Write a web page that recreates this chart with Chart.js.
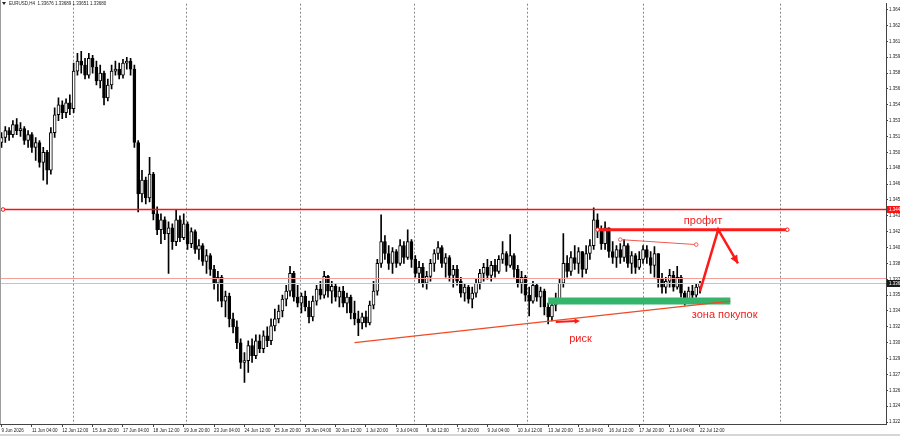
<!DOCTYPE html>
<html>
<head>
<meta charset="utf-8">
<script src="https://cdn.jsdelivr.net/npm/chart.js@4/dist/chart.umd.min.js"></script>
<style>
  html, body { margin: 0; padding: 0; background: #fff; }
</style>
</head>
<body>
<canvas id="c" width="900" height="436"></canvas>
<script>
// EURUSD H4 candles
const opens = [
  1.3510,1.3515,1.3522,1.3518,1.3528,1.3522,1.3524,1.3512,1.3518,1.3505,
  1.3510,1.3490,1.3500,1.3482,1.3520,1.3538,1.3548,1.3540,1.3550,1.3544,
  1.3582,1.3592,1.3588,1.3578,1.3595,1.3586,1.3572,1.3580,1.3555,1.3568,
  1.3582,1.3584,1.3578,1.3590,1.3592,1.3584,1.3510,1.3458,1.3472,1.3454,
  1.3478,1.3438,1.3422,1.3432,1.3418,1.3424,1.3410,1.3432,1.3414,1.3428,
  1.3408,1.3420,1.3402,1.3406,1.3390,1.3396,1.3382,1.3368,1.3374,1.3350,
  1.3355,1.3332,1.3324,1.3308,1.3288,1.3290,1.3305,1.3295,1.3310,1.3302,
  1.3315,1.3310,1.3325,1.3332,1.3340,1.3352,1.3360,1.3378,1.3354,1.3348,
  1.3355,1.3344,1.3334,1.3350,1.3362,1.3356,1.3375,1.3360,1.3365,1.3354,
  1.3360,1.3348,1.3354,1.3338,1.3332,1.3328,1.3334,1.3328,1.3346,1.3360,
  1.3388,1.3410,1.3398,1.3388,1.3400,1.3388,1.3406,1.3394,1.3410,1.3392,
  1.3378,1.3384,1.3368,1.3375,1.3388,1.3398,1.3404,1.3388,1.3394,1.3376,
  1.3382,1.3370,1.3358,1.3364,1.3352,1.3358,1.3368,1.3378,1.3384,1.3376,
  1.3386,1.3380,1.3392,1.3398,1.3386,1.3396,1.3382,1.3368,1.3374,1.3356,
  1.3350,1.3366,1.3354,1.3360,1.3344,1.3334,1.3346,1.3352,1.3368,1.3388,
  1.3380,1.3394,1.3388,1.3400,1.3382,1.3398,1.3406,1.3432,1.3422,1.3408,
  1.3424,1.3400,1.3394,1.3402,1.3394,1.3406,1.3388,1.3396,1.3384,1.3392,
  1.3402,1.3394,1.3386,1.3398,1.3372,1.3364,1.3370,1.3376,1.3364,1.3374,
  1.3358,1.3352,1.3360,1.3356,1.3364
];
const highs = [
  1.3520,1.3526,1.3525,1.3532,1.3534,1.3530,1.3526,1.3522,1.3520,1.3515,
  1.3512,1.3505,1.3502,1.3525,1.3545,1.3555,1.3552,1.3554,1.3558,1.3590,
  1.3600,1.3602,1.3595,1.3600,1.3598,1.3592,1.3588,1.3582,1.3574,1.3588,
  1.3592,1.3590,1.3594,1.3596,1.3595,1.3588,1.3512,1.3482,1.3475,1.3495,
  1.3480,1.3445,1.3438,1.3435,1.3430,1.3428,1.3442,1.3436,1.3438,1.3430,
  1.3424,1.3422,1.3412,1.3408,1.3402,1.3398,1.3386,1.3380,1.3376,1.3360,
  1.3358,1.3338,1.3330,1.3312,1.3298,1.3310,1.3312,1.3316,1.3316,1.3320,
  1.3324,1.3332,1.3342,1.3346,1.3356,1.3366,1.3385,1.3380,1.3366,1.3358,
  1.3360,1.3350,1.3355,1.3366,1.3370,1.3380,1.3376,1.3370,1.3368,1.3364,
  1.3365,1.3358,1.3356,1.3350,1.3340,1.3338,1.3340,1.3350,1.3370,1.3392,
  1.3437,1.3416,1.3406,1.3404,1.3402,1.3412,1.3410,1.3422,1.3412,1.3396,
  1.3390,1.3388,1.3380,1.3392,1.3402,1.3410,1.3406,1.3398,1.3396,1.3386,
  1.3386,1.3374,1.3368,1.3366,1.3364,1.3372,1.3382,1.3388,1.3392,1.3390,
  1.3392,1.3396,1.3410,1.3400,1.3417,1.3398,1.3386,1.3380,1.3376,1.3364,
  1.3370,1.3368,1.3364,1.3362,1.3348,1.3352,1.3358,1.3372,1.3418,1.3396,
  1.3400,1.3406,1.3404,1.3400,1.3406,1.3412,1.3444,1.3438,1.3426,1.3430,
  1.3424,1.3410,1.3406,1.3408,1.3412,1.3408,1.3400,1.3398,1.3400,1.3406,
  1.3406,1.3400,1.3405,1.3398,1.3378,1.3374,1.3382,1.3380,1.3385,1.3376,
  1.3360,1.3364,1.3366,1.3368,1.3370
];
const lows = [
  1.3505,1.3510,1.3512,1.3515,1.3518,1.3516,1.3508,1.3505,1.3500,1.3492,
  1.3485,1.3472,1.3468,1.3478,1.3515,1.3532,1.3534,1.3535,1.3538,1.3540,
  1.3578,1.3580,1.3574,1.3575,1.3580,1.3568,1.3565,1.3548,1.3552,1.3564,
  1.3578,1.3574,1.3575,1.3584,1.3578,1.3505,1.3440,1.3450,1.3448,1.3450,
  1.3432,1.3417,1.3408,1.3412,1.3378,1.3402,1.3406,1.3410,1.3412,1.3402,
  1.3404,1.3398,1.3392,1.3386,1.3378,1.3376,1.3362,1.3350,1.3344,1.3334,
  1.3324,1.3318,1.3302,1.3282,1.3268,1.3278,1.3288,1.3292,1.3298,1.3298,
  1.3304,1.3306,1.3320,1.3328,1.3334,1.3345,1.3355,1.3350,1.3344,1.3338,
  1.3340,1.3328,1.3330,1.3346,1.3352,1.3353,1.3354,1.3348,1.3350,1.3344,
  1.3344,1.3338,1.3332,1.3326,1.3315,1.3322,1.3324,1.3326,1.3342,1.3356,
  1.3384,1.3392,1.3382,1.3378,1.3384,1.3386,1.3388,1.3392,1.3384,1.3374,
  1.3368,1.3364,1.3362,1.3370,1.3380,1.3392,1.3384,1.3374,1.3370,1.3364,
  1.3366,1.3354,1.3350,1.3348,1.3343,1.3354,1.3362,1.3370,1.3372,1.3370,
  1.3374,1.3378,1.3388,1.3380,1.3384,1.3374,1.3364,1.3358,1.3350,1.3335,
  1.3348,1.3350,1.3344,1.3336,1.3327,1.3330,1.3340,1.3348,1.3364,1.3374,
  1.3376,1.3382,1.3378,1.3374,1.3378,1.3392,1.3402,1.3414,1.3402,1.3402,
  1.3394,1.3388,1.3384,1.3388,1.3390,1.3384,1.3378,1.3378,1.3382,1.3388,
  1.3388,1.3378,1.3374,1.3364,1.3358,1.3358,1.3364,1.3360,1.3362,1.3354,
  1.3346,1.3350,1.3352,1.3354,1.3358
];
const closes = [
  1.3515,1.3522,1.3518,1.3528,1.3522,1.3524,1.3512,1.3518,1.3505,1.3510,
  1.3490,1.3500,1.3482,1.3520,1.3538,1.3548,1.3540,1.3550,1.3544,1.3582,
  1.3592,1.3588,1.3578,1.3595,1.3586,1.3572,1.3580,1.3555,1.3568,1.3582,
  1.3584,1.3578,1.3590,1.3592,1.3584,1.3510,1.3458,1.3472,1.3454,1.3478,
  1.3438,1.3422,1.3432,1.3418,1.3424,1.3410,1.3432,1.3414,1.3428,1.3408,
  1.3420,1.3402,1.3406,1.3390,1.3396,1.3382,1.3368,1.3374,1.3350,1.3355,
  1.3332,1.3324,1.3308,1.3288,1.3290,1.3305,1.3295,1.3310,1.3302,1.3315,
  1.3310,1.3325,1.3332,1.3340,1.3352,1.3360,1.3378,1.3354,1.3348,1.3355,
  1.3344,1.3334,1.3350,1.3362,1.3356,1.3375,1.3360,1.3365,1.3354,1.3360,
  1.3348,1.3354,1.3338,1.3332,1.3328,1.3334,1.3328,1.3346,1.3360,1.3388,
  1.3410,1.3398,1.3388,1.3400,1.3388,1.3406,1.3394,1.3410,1.3392,1.3378,
  1.3384,1.3368,1.3375,1.3388,1.3398,1.3404,1.3388,1.3394,1.3376,1.3382,
  1.3370,1.3358,1.3364,1.3352,1.3358,1.3368,1.3378,1.3384,1.3376,1.3386,
  1.3380,1.3392,1.3398,1.3386,1.3396,1.3382,1.3368,1.3374,1.3356,1.3350,
  1.3366,1.3354,1.3360,1.3344,1.3334,1.3346,1.3352,1.3368,1.3388,1.3380,
  1.3394,1.3388,1.3400,1.3382,1.3398,1.3406,1.3432,1.3422,1.3408,1.3424,
  1.3400,1.3394,1.3402,1.3394,1.3406,1.3388,1.3396,1.3384,1.3392,1.3402,
  1.3394,1.3386,1.3398,1.3372,1.3364,1.3370,1.3376,1.3364,1.3374,1.3358,
  1.3352,1.3360,1.3356,1.3364,1.3368
];

// time axis labels (every 8th bar)
const xLabelIdx = [0,8,16,24,32,40,48,56,64,72,80,88,96,104,112,120,128,136,144,152,160,168,176,184];
const xLabels = ['9 Jun 2026','11 Jun 04:00','12 Jun 12:00','15 Jun 20:00','17 Jun 04:00','18 Jun 12:00',
  '19 Jun 20:00','23 Jun 04:00','24 Jun 12:00','25 Jun 20:00','29 Jun 04:00','30 Jun 12:00',
  '1 Jul 20:00','3 Jul 04:00','6 Jul 12:00','7 Jul 20:00','9 Jul 04:00','10 Jul 12:00',
  '13 Jul 20:00','15 Jul 04:00','16 Jul 12:00','17 Jul 20:00','21 Jul 04:00','22 Jul 12:00'];
const sepIdx = [18.8, 48.6, 78.6, 108.7, 138.4, 169, 205];

const yTicks = [1.3228,1.3244,1.3260,1.3276,1.3292,1.3308,1.3324,1.3340,1.3356,1.3372,1.3388,
  1.3404,1.3420,1.3436,1.3452,1.3468,1.3484,1.3500,1.3516,1.3532,1.3548,1.3564,1.3580,1.3596,
  1.3612,1.3628,1.3644];

// drawn objects (bar index, price)
const levelRed = 1.3443;
const askPrice = 1.3373;
const bidPrice = 1.3368;
const profitX = [157, 207], profitY = 1.3422;
const zoneX = [144, 192], zoneY = 1.3350;
const riskX = [93, 192], riskY = [1.3308, 1.3350];
const thinX = [163, 183], thinY = [1.3412, 1.3407];
const pathX = [184, 188.8, 194], pathY = [1.3360, 1.3422, 1.3388];
const shortX = [146, 152.4], shortY = [1.3329, 1.3330];
const notes = [
  { text: 'профит', x: 184.8, y: 1.3431 },
  { text: 'риск', x: 152.5, y: 1.3312 },
  { text: 'зона покупок', x: 190.5, y: 1.3336 }
];

const FONT = '"Liberation Sans", Arial, sans-serif';

function arrowHead(ctx, x0, y0, x1, y1, size) {
  const a = Math.atan2(y1 - y0, x1 - x0);
  ctx.beginPath();
  ctx.moveTo(x1, y1);
  ctx.lineTo(x1 - size * Math.cos(a - 0.45), y1 - size * Math.sin(a - 0.45));
  ctx.lineTo(x1 - size * Math.cos(a + 0.45), y1 - size * Math.sin(a + 0.45));
  ctx.closePath();
  ctx.fill();
}

function dot(ctx, x, y, color) {
  ctx.beginPath();
  ctx.arc(x, y, 1.8, 0, Math.PI * 2);
  ctx.fillStyle = '#fff';
  ctx.fill();
  ctx.strokeStyle = color;
  ctx.lineWidth = 1;
  ctx.stroke();
}

function hline(ctx, a, py, color, w) {
  ctx.strokeStyle = color;
  ctx.lineWidth = w;
  ctx.beginPath();
  ctx.moveTo(a.left, Math.round(py) + 0.5);
  ctx.lineTo(a.right, Math.round(py) + 0.5);
  ctx.stroke();
}

const mtPlugin = {
  id: 'mt',
  beforeDatasetsDraw(chart) {
    const { ctx, chartArea: a, scales: { x } } = chart;
    ctx.save();
    ctx.strokeStyle = '#8a8a8a';
    ctx.lineWidth = 1;
    ctx.setLineDash([2, 2]);
    sepIdx.forEach(v => {
      const px = Math.round(x.getPixelForValue(v)) + 0.5;
      ctx.beginPath(); ctx.moveTo(px, a.top); ctx.lineTo(px, a.bottom); ctx.stroke();
    });
    ctx.restore();
  },
  afterDatasetsDraw(chart) {
    const { ctx, chartArea: a, scales: { x, y } } = chart;
    const X = v => x.getPixelForValue(v), Y = v => y.getPixelForValue(v);
    ctx.save();

    // price lines
    hline(ctx, a, Y(askPrice), '#f3a09a', 1);
    hline(ctx, a, Y(bidPrice), '#c4c4c4', 1);
    hline(ctx, a, Y(levelRed), '#ff1010', 1.4);
    dot(ctx, a.left + 3, Math.round(Y(levelRed)) + 0.5, '#ff1010');

    // buy zone
    ctx.strokeStyle = '#35b46c';
    ctx.lineWidth = 7;
    ctx.beginPath(); ctx.moveTo(X(zoneX[0]), Y(zoneY)); ctx.lineTo(X(zoneX[1]), Y(zoneY)); ctx.stroke();

    // risk trend line
    ctx.strokeStyle = '#f04a24';
    ctx.lineWidth = 1.3;
    ctx.beginPath(); ctx.moveTo(X(riskX[0]), Y(riskY[0])); ctx.lineTo(X(riskX[1]), Y(riskY[1])); ctx.stroke();

    // thin line
    ctx.strokeStyle = '#ef5a50';
    ctx.lineWidth = 1;
    ctx.beginPath(); ctx.moveTo(X(thinX[0]), Y(thinY[0])); ctx.lineTo(X(thinX[1]), Y(thinY[1])); ctx.stroke();
    dot(ctx, X(thinX[0]), Y(thinY[0]), '#ef5a50');
    dot(ctx, X(thinX[1]), Y(thinY[1]), '#ef5a50');

    // profit level
    ctx.strokeStyle = '#ff1a1a';
    ctx.lineWidth = 3;
    ctx.beginPath(); ctx.moveTo(X(profitX[0]), Y(profitY)); ctx.lineTo(X(profitX[1]), Y(profitY)); ctx.stroke();
    dot(ctx, X(profitX[0]), Y(profitY), '#ff1a1a');
    dot(ctx, X(profitX[1]), Y(profitY), '#ff1a1a');

    // zigzag arrow
    ctx.strokeStyle = '#ff1a1a';
    ctx.fillStyle = '#ff1a1a';
    ctx.lineWidth = 2.5;
    ctx.beginPath();
    pathX.forEach((v, i) => i ? ctx.lineTo(X(v), Y(pathY[i])) : ctx.moveTo(X(v), Y(pathY[i])));
    ctx.stroke();
    const n = pathX.length - 1;
    arrowHead(ctx, X(pathX[n - 1]), Y(pathY[n - 1]), X(pathX[n]), Y(pathY[n]), 9);

    // short arrow at risk
    ctx.lineWidth = 2;
    ctx.beginPath(); ctx.moveTo(X(shortX[0]), Y(shortY[0])); ctx.lineTo(X(shortX[1]) - 4, Y(shortY[1])); ctx.stroke();
    arrowHead(ctx, X(shortX[0]), Y(shortY[0]), X(shortX[1]), Y(shortY[1]), 6);

    // notes
    ctx.fillStyle = '#f01e1e';
    ctx.font = '11px ' + FONT;
    ctx.textAlign = 'center';
    ctx.textBaseline = 'middle';
    notes.forEach(t => ctx.fillText(t.text, X(t.x), Y(t.y)));
    ctx.restore();
  },
  afterDraw(chart) {
    const { ctx, chartArea: a, scales: { y } } = chart;
    ctx.save();
    ctx.font = '4.5px ' + FONT;
    ctx.textBaseline = 'middle';
    ctx.textAlign = 'left';
    // axis price boxes
    [[levelRed, '#ff1010'], [bidPrice, '#1a1a1a']].forEach(([p, c]) => {
      const py = Math.round(y.getPixelForValue(p));
      ctx.fillStyle = c;
      ctx.fillRect(a.right + 1, py - 3, chart.width - a.right - 1, 7);
      ctx.fillStyle = '#fff';
      ctx.fillText(p.toFixed(4), a.right + 3, py + 0.5);
    });
    // symbol header
    ctx.fillStyle = '#222';
    ctx.beginPath(); ctx.moveTo(2, 2); ctx.lineTo(6, 2); ctx.lineTo(4, 5); ctx.closePath(); ctx.fill();
    ctx.fillText('EURUSD,H4  1.33676 1.33689 1.33651 1.33680', 9, 3.5);
    // left border and bottom strip
    ctx.fillStyle = '#9c9c9c';
    ctx.fillRect(0, 0, 1, a.bottom);
    ctx.fillStyle = '#d6d6d6';
    ctx.fillRect(0, chart.height - 2, chart.width, 2);
    ctx.restore();
  }
};

const bodies = closes.map((c, i) => ({ x: i, y: [opens[i], c] }));
const wicks = closes.map((c, i) => ({ x: i, y: [lows[i], highs[i]] }));

new Chart(document.getElementById('c'), {
  type: 'bar',
  data: {
    datasets: [
      {
        label: 'body',
        data: bodies,
        order: 0,
        grouped: false,
        barThickness: 3,
        borderWidth: 1,
        borderSkipped: false,
        borderColor: '#000',
        backgroundColor: closes.map((c, i) => c >= opens[i] ? '#fff' : '#000')
      },
      {
        label: 'wick',
        data: wicks,
        order: 1,
        grouped: false,
        barThickness: 1,
        borderWidth: 0,
        backgroundColor: '#000'
      }
    ]
  },
  options: {
    responsive: false,
    animation: false,
    devicePixelRatio: 1,
    layout: { padding: 0 },
    plugins: { legend: { display: false }, tooltip: { enabled: false } },
    scales: {
      x: {
        type: 'linear',
        min: -0.4,
        max: 233,
        offset: false,
        afterFit(s) { s.height = 12; },
        afterBuildTicks(s) { s.ticks = xLabelIdx.map(v => ({ value: v })); },
        ticks: {
          callback: (v, i) => xLabels[i],
          align: 'start',
          autoSkip: false,
          maxRotation: 0,
          padding: 1,
          color: '#222',
          font: { size: 4.5, family: FONT }
        },
        grid: { offset: false, drawOnChartArea: false, tickLength: 3, color: '#444' },
        border: { color: '#444' }
      },
      y: {
        position: 'right',
        min: 1.3226,
        max: 1.3650,
        afterFit(s) { s.width = 14; },
        afterBuildTicks(s) { s.ticks = yTicks.map(v => ({ value: v })); },
        ticks: {
          callback: v => v.toFixed(4),
          autoSkip: false,
          padding: 1,
          color: '#222',
          font: { size: 4.5, family: FONT }
        },
        grid: { drawOnChartArea: false, tickLength: 2, color: '#444' },
        border: { color: '#444' }
      }
    }
  },
  plugins: [mtPlugin]
});
</script>
</body>
</html>
